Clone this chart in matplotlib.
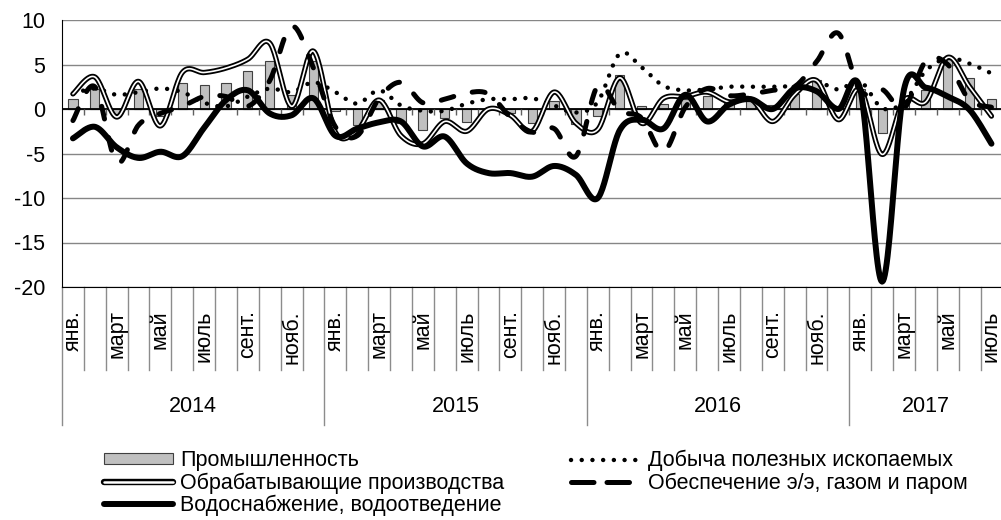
import numpy as np
import matplotlib
matplotlib.use('Agg')
import matplotlib.pyplot as plt
import matplotlib.transforms as mtransforms
from matplotlib.lines import Line2D
from matplotlib.patches import Patch
from matplotlib.legend_handler import HandlerTuple

plt.rcParams['font.family'] = ['Liberation Sans', 'DejaVu Sans']

# ---------------- data ----------------
years = ['2014', '2015', '2016', '2017']
months_per_year = [12, 12, 12, 7]
month_labels = ['янв.', '', 'март', '', 'май', '', 'июль', '', 'сент.', '', 'нояб.', '']

industry = [1.1, 2.3, -0.8, 2.2, -0.8, 2.9, 2.7, 2.9, 4.3, 5.4, 1.6, 5.4,
            -0.2, -1.8, 1.0, -1.6, -2.4, -1.0, -1.5, 0.1, -0.4, -1.6, 0.9, -1.7,
            -0.8, 3.8, 0.3, 0.6, 1.1, 1.5, 1.0, 1.0, 0.5, 1.7, 3.3, 0.1,
            2.3, -2.7, 0.8, 2.1, 5.8, 3.5, 1.1]

manufacturing = [1.7, 3.6, -0.9, 3.1, -1.9, 4.1, 4.1, 4.6, 5.6, 7.4, 0.3, 6.5,
                 -2.6, -2.4, 1.0, -3.0, -3.9, -1.4, -2.5, 0.0, -0.7, -2.5, 1.9, -1.6,
                 -2.3, 3.5, -1.6, 1.2, 1.4, 1.9, 0.8, 1.1, -1.4, 1.6, 3.2, -1.2,
                 2.2, -5.1, 1.0, 0.8, 5.8, 2.5, -0.8]

mining = [1.7, 2.3, 1.6, 1.9, 2.3, 1.9, 0.7, 0.3, 1.4, 2.3, 1.9, 3.0,
          1.9, 0.6, 2.1, 0.4, -0.2, -0.2, 0.6, 1.1, 1.1, 1.2, 0.4, -0.4,
          0.8, 6.2, 4.7, 2.6, 2.1, 2.2, 2.5, 2.5, 2.5, 2.6, 3.1, 2.2,
          3.1, 0.1, 0.8, 4.3, 5.7, 5.1, 4.0]

energy = [-1.3, 2.5, -6.0, -1.8, -0.5, 0.3, 1.4, 1.4, 0.3, 3.2, 9.3, 4.6,
          -2.0, -3.0, 1.2, 3.0, 0.7, 1.1, 1.8, 1.7, -0.9, -2.6, -2.2, -5.3,
          2.6, -0.2, -1.0, -4.8, 0.2, 2.3, 1.5, 1.7, 2.1, 2.5, 5.3, 8.5,
          2.0, 2.2, 0.1, 5.4, 5.0, 1.0, 0.2]

water = [-3.3, -2.0, -4.3, -5.5, -4.8, -5.3, -2.1, 1.0, 2.1, -0.5, -0.7, 1.2,
         -3.0, -2.2, -1.5, -1.4, -4.2, -3.1, -6.1, -7.2, -7.2, -7.6, -6.4, -7.4,
         -10.0, -2.4, -1.2, -2.2, 1.6, -1.4, 0.5, 1.1, 0.0, 2.3, 2.0, 0.0,
         2.2, -19.4, 2.2, 2.4, 1.4, -0.1, -3.9]

names = ['Промышленность', 'Обрабатывающие производства', 'Водоснабжение, водоотведение',
         'Добыча полезных ископаемых', 'Обеспечение э/э, газом и паром']


def smooth(yvals, steps=24):
    """Excel-like smoothed line (Catmull-Rom Bezier through points)."""
    y = np.asarray(yvals, float)
    x = np.arange(len(y), dtype=float)
    n = len(y)
    xs, ys = [], []
    t = np.linspace(0, 1, steps, endpoint=False)
    for i in range(n - 1):
        i0, i3 = max(i - 1, 0), min(i + 2, n - 1)
        p0 = np.array([x[i0], y[i0]]); p1 = np.array([x[i], y[i]])
        p2 = np.array([x[i + 1], y[i + 1]]); p3 = np.array([x[i3], y[i3]])
        c1 = p1 + (p2 - p0) / 6.0
        c2 = p2 - (p3 - p1) / 6.0
        b = ((1 - t) ** 3)[:, None] * p1 + (3 * (1 - t) ** 2 * t)[:, None] * c1 + \
            (3 * (1 - t) * t ** 2)[:, None] * c2 + (t ** 3)[:, None] * p2
        xs.append(b[:, 0]); ys.append(b[:, 1])
    xs.append([x[-1]]); ys.append([y[-1]])
    return np.concatenate(xs), np.concatenate(ys)


N = len(industry)
idx = np.arange(N)

fig = plt.figure(figsize=(10.01, 5.2), dpi=100)
ax = fig.add_axes([62 / 1001, 233 / 520, 940.4 / 1001, 267 / 520])

FS = 15.5
ax.set_xlim(-0.5, N - 0.5)
ax.set_ylim(-20, 10)
ax.set_yticks(range(-20, 11, 5))
ax.set_yticklabels([str(v) for v in range(-20, 11, 5)], fontsize=FS)
ax.tick_params(axis='y', length=0, pad=12)
ax.set_xticks([])
ax.yaxis.grid(True, color='#868686', lw=1.0, zorder=0)
ax.set_axisbelow(True)
for s in ['top', 'right']:
    ax.spines[s].set_visible(False)
ax.spines['left'].set_color('black')
ax.spines['bottom'].set_color('black')

ax.bar(idx, industry, width=0.42, color='#c0c0c0', edgecolor='#404040', linewidth=0.8, zorder=2)

ax.axhline(0, color='black', lw=1.3, zorder=2.5)
ax.vlines(np.arange(0.5, N - 0.5, 1), -0.65, 0, color='#606060', lw=1.0, zorder=2.5)

sx, sy = smooth(mining)
ax.plot(sx, sy, color='black', lw=3.2, linestyle=(0, (0.01, 2.4)), dash_capstyle='round', zorder=3)
sx, sy = smooth(manufacturing)
ax.plot(sx, sy, color='black', lw=3.8, zorder=4, solid_capstyle='round')
ax.plot(sx, sy, color='white', lw=1.2, zorder=4.1, solid_capstyle='round')
sx, sy = smooth(energy)
ax.plot(sx, sy, color='black', lw=3.6, linestyle=(0, (2.6, 3.8)), dash_capstyle='round', zorder=5)
sx, sy = smooth(water)
ax.plot(sx, sy, color='black', lw=4.3, zorder=6, solid_capstyle='round')

# multi-level category axis
trans = mtransforms.blended_transform_factory(ax.transData, ax.transAxes)
starts = np.cumsum([0] + months_per_year[:-1])
year_bounds = set(list(starts) + [N])
for b in range(N + 1):
    yb = -0.517 if b in year_bounds else -0.311
    ax.plot([b - 0.5, b - 0.5], [0, yb], transform=trans, color='#8c8c8c', lw=1.0, clip_on=False)

for y_i, (yr, cnt, st) in enumerate(zip(years, months_per_year, starts)):
    for m in range(cnt):
        lab = month_labels[m]
        if lab:
            ax.text(st + m, -0.088, lab, transform=trans, rotation=90, ha='center', va='top', fontsize=FS)
    ax.text(st + (cnt - 1) / 2, -0.449, yr, transform=trans, ha='center', va='center', fontsize=FS)

# legend
h_ind = Patch(facecolor='#c0c0c0', edgecolor='#404040', linewidth=0.8)
h_man = (Line2D([], [], color='black', lw=4.6, solid_capstyle='round'),
         Line2D([], [], color='white', lw=1.8, solid_capstyle='round'))
h_wat = Line2D([], [], color='black', lw=4.3, solid_capstyle='round')
h_min = Line2D([], [], color='black', lw=3.2, linestyle=(0, (0.01, 2.4)), dash_capstyle='round')
h_ene = Line2D([], [], color='black', lw=3.6, linestyle=(0, (4.5, 2.6)), dash_capstyle='round')
fig.legend([h_ind, h_man, h_wat, h_min, h_ene], names, ncol=2, loc='upper left',
           bbox_to_anchor=(104 / 1001, 1 - 450 / 520), frameon=False, fontsize=FS,
           handlelength=3.2, handleheight=0.45, handletextpad=0.35, columnspacing=3.1,
           labelspacing=0.05, borderaxespad=0, borderpad=0,
           handler_map={tuple: HandlerTuple(ndivide=1, pad=0)})

fig.savefig('out.png', dpi=100)
